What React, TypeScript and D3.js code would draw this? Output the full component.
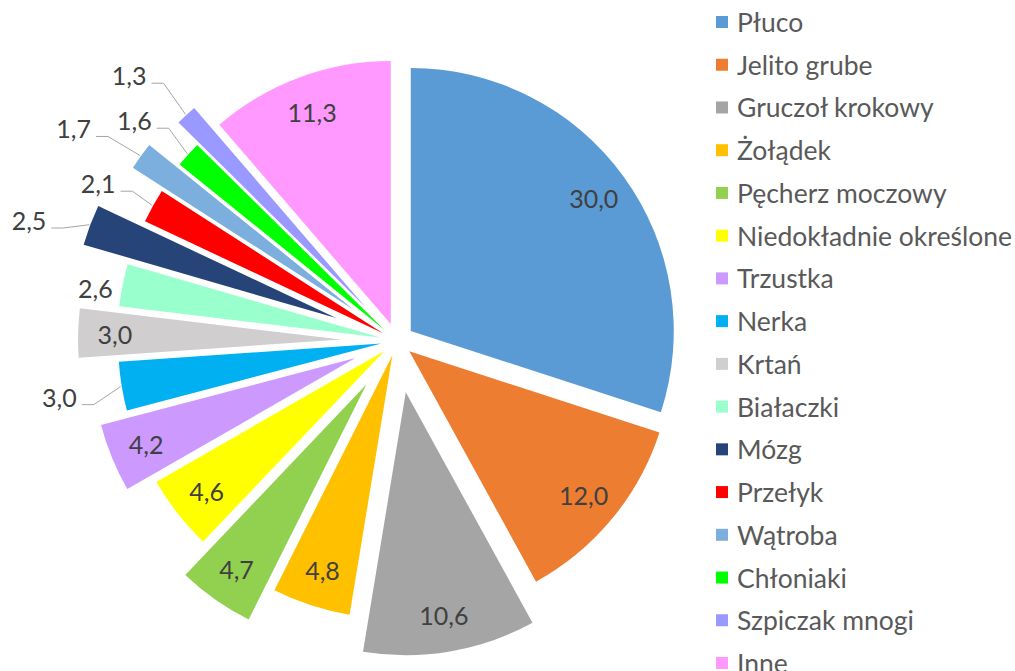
import React, { useEffect, useRef } from 'react';
import * as d3 from 'd3';

const categories = [
  'Płuco', 'Jelito grube', 'Gruczoł krokowy', 'Żołądek', 'Pęcherz moczowy',
  'Niedokładnie określone', 'Trzustka', 'Nerka', 'Krtań', 'Białaczki', 'Mózg',
  'Przełyk', 'Wątroba', 'Chłoniaki', 'Szpiczak mnogi', 'Inne',
];
const values = [30.0, 12.0, 10.6, 4.8, 4.7, 4.6, 4.2, 3.0, 3.0, 2.6, 2.5, 2.1, 1.7, 1.6, 1.3, 11.3];
const colors = [
  '#5B9BD5', '#ED7D31', '#A5A5A5', '#FFC000', '#92D050', '#FFFF00', '#CC99FF', '#00B0F0',
  '#D0CECE', '#99FFCC', '#264478', '#FF0000', '#7CAFDD', '#00FF00', '#9999FF', '#FF99FF',
];
// how far each slice is pulled out of the pie, px
const explode = [17, 16, 52, 15, 53, 16, 45, 16, 56, 17, 65, 16, 53, 17, 46, 18];
// labels placed outside the slice: [radius factor, angle shift in degrees]
const outsideLabels: Record<string, [number, number]> = {
  'Nerka': [1.24, 0], 'Białaczki': [1.1, -1.6], 'Mózg': [1.226, -3],
  'Przełyk': [1.224, -1.2], 'Wątroba': [1.27, -2.9], 'Chłoniaki': [1.24, -1.8],
  'Szpiczak mnogi': [1.26, -2.5],
};

const W = 1015;
const H = 671;
const cx = 397;
const cy = 341;
const R = 263;
const FONT = 'Lato, "Open Sans", sans-serif';

function drawPie(svgEl: SVGSVGElement) {
  const svg = d3.select(svgEl);
  svg.selectAll('*').remove();

  const data = categories.map((c, i) => ({ name: c, value: values[i], color: colors[i], ex: explode[i] }));
  const pie = d3.pie<any>().value(d => d.value).sort(null).startAngle(0).endAngle(2 * Math.PI);
  const arcs = pie(data);
  const arc = d3.arc<any>().innerRadius(0).outerRadius(R);
  const fmt = (v: number) => d3.format('.1f')(v).replace('.', ',');
  const dir = (a: number) => [Math.sin(a), -Math.cos(a)];

  const g = svg.append('g').attr('transform', `translate(${cx},${cy})`);

  const slice = g.selectAll('g.slice').data(arcs).enter().append('g')
    .attr('class', 'slice')
    .attr('transform', d => {
      const [dx, dy] = dir((d.startAngle + d.endAngle) / 2);
      return `translate(${dx * d.data.ex},${dy * d.data.ex})`;
    });

  slice.append('path')
    .attr('d', arc as any)
    .attr('fill', d => d.data.color);

  slice.each(function (d) {
    const sel = d3.select(this);
    const mid = (d.startAngle + d.endAngle) / 2;
    const out = outsideLabels[d.data.name];
    const a = out ? mid + (out[1] * Math.PI) / 180 : mid;
    const r = out ? out[0] * R : 0.86 * R;
    const [dx, dy] = dir(a);
    const lx = dx * r;
    const ly = dy * r;
    const t = sel.append('text')
      .attr('x', lx)
      .attr('y', ly)
      .attr('text-anchor', 'middle')
      .attr('dominant-baseline', 'central')
      .attr('font-family', FONT)
      .attr('font-size', 25)
      .attr('fill', '#404040')
      .text(fmt(d.data.value));
    if (out && out[0] > 1.15) {
      const tw = (t.node() as SVGTextElement).getComputedTextLength();
      const sx = lx + tw / 2 + 5;
      const sy = ly + 8;
      const [mx, my] = dir(mid);
      const px = mx * (R + 1);
      const py = my * (R + 1);
      const ex = Math.min(sx + 12, px - 2);
      sel.append('polyline')
        .attr('points', `${sx},${sy} ${ex},${sy} ${px},${py}`)
        .attr('fill', 'none')
        .attr('stroke', '#A6A6A6')
        .attr('stroke-width', 1);
    }
  });

  // legend
  const rowY = d3.scalePoint<string>().domain(categories).range([22, 663]);
  const leg = svg.append('g');
  const item = leg.selectAll('g').data(data).enter().append('g')
    .attr('transform', d => `translate(716,${rowY(d.name)})`);
  item.append('rect').attr('x', 0).attr('y', -6).attr('width', 12).attr('height', 12).attr('fill', d => d.color);
  item.append('text')
    .attr('x', 21)
    .attr('y', 0)
    .attr('dominant-baseline', 'central')
    .attr('font-family', FONT)
    .attr('font-size', 26.5)
    .attr('fill', '#595959')
    .text(d => d.name);
}

const App = () => {
  const ref = useRef<SVGSVGElement>(null);
  useEffect(() => {
    if (ref.current) drawPie(ref.current);
  }, []);
  return (
    <svg ref={ref} width={W} height={H}
      style={{ position: 'absolute', left: 0, top: 0, background: '#fff' }} />
  );
};

export default App;
